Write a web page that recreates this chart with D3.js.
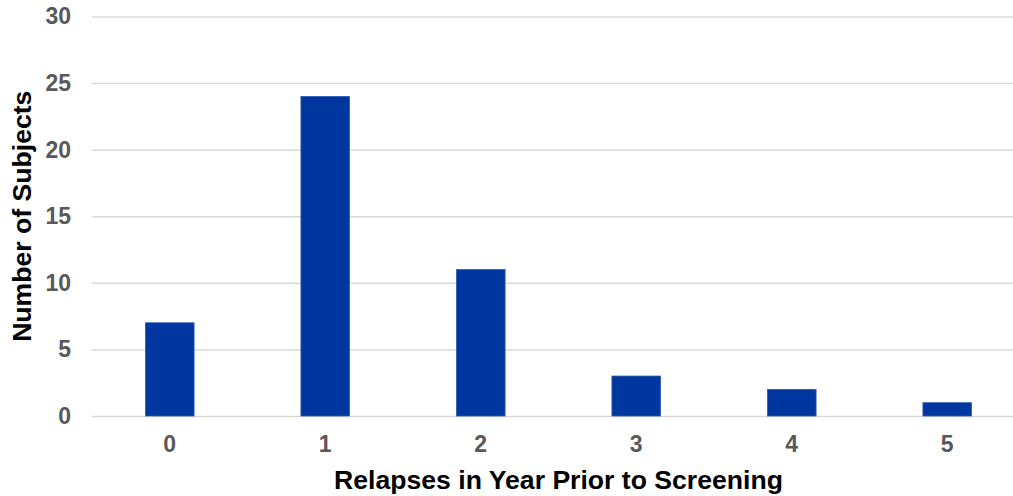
<!DOCTYPE html>
<html>
<head>
<meta charset="utf-8">
<script src="https://cdn.jsdelivr.net/npm/d3@7"></script>
<style>
  html, body { margin: 0; padding: 0; background: #fff; }
  svg { display: block; }
</style>
</head>
<body>
<svg id="chart" width="1013" height="496"></svg>
<script>
const categories = ["0", "1", "2", "3", "4", "5"];
const values = [7, 24, 11, 3, 2, 1];
const yTicks = [0, 5, 10, 15, 20, 25, 30];
const xTitle = "Relapses in Year Prior to Screening";
const yTitle = "Number of Subjects";

const svg = d3.select("#chart");
const plotLeft = 92, plotRight = 1025, plotTop = 16.5, plotBottom = 416;
const font = "'Liberation Sans', Arial, sans-serif";

const x = d3.scaleBand().domain(categories).range([plotLeft, plotRight])
  .paddingInner(0.687).paddingOuter(0.3435);
const y = d3.scaleLinear().domain([0, 30]).range([plotBottom, plotTop]);

// gridlines
const yAxis = d3.axisLeft(y).tickValues(yTicks).tickSize(-(plotRight - plotLeft)).tickPadding(21);
const gy = svg.append("g").attr("transform", `translate(${plotLeft},0)`).call(yAxis);
gy.select(".domain").remove();
gy.selectAll(".tick line").attr("stroke", "#d9d9d9").attr("stroke-width", 1.5);
gy.selectAll(".tick text")
  .attr("fill", "#595959").attr("font-family", font)
  .attr("font-weight", "bold").attr("font-size", 23);

// bars
svg.append("g").selectAll("rect").data(values).join("rect")
  .attr("x", (d, i) => x(categories[i]))
  .attr("y", d => y(d))
  .attr("width", x.bandwidth())
  .attr("height", d => y(0) - y(d))
  .attr("fill", "#0036a0")
  .attr("stroke", "#2f5bb0").attr("stroke-width", 0.8);

// x axis labels
const xAxis = d3.axisBottom(x).tickSize(0).tickPadding(20);
const gx = svg.append("g").attr("transform", `translate(0,${plotBottom})`).call(xAxis);
gx.select(".domain").remove();
gx.selectAll(".tick text")
  .attr("fill", "#595959").attr("font-family", font)
  .attr("font-weight", "bold").attr("font-size", 23);

// titles
svg.append("text")
  .attr("x", (plotLeft + plotRight) / 2).attr("y", 489)
  .attr("text-anchor", "middle")
  .attr("font-family", font).attr("font-weight", "bold").attr("font-size", 26.6)
  .attr("fill", "#000").text(xTitle);

svg.append("text")
  .attr("transform", `translate(31,${(plotTop + plotBottom) / 2}) rotate(-90)`)
  .attr("text-anchor", "middle")
  .attr("font-family", font).attr("font-weight", "bold").attr("font-size", 26.6)
  .attr("fill", "#000").text(yTitle);
</script>
</body>
</html>
